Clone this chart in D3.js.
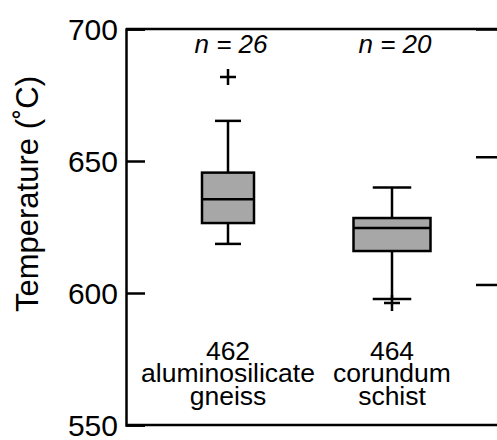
<!DOCTYPE html>
<html>
<head>
<meta charset="utf-8">
<style>
  body { margin: 0; background: #fff; }
  text { font-family: "Liberation Sans", Arial, sans-serif; fill: #000; }
</style>
</head>
<body>
<script src="https://cdn.jsdelivr.net/npm/d3@7"></script>
<script>

// sample data
var samples = ["462", "464"];
var rockNames = [["aluminosilicate", "gneiss"], ["corundum", "schist"]];
var counts = [26, 20];
var whiskerLow = [618.6, 597.7];
var q1 = [626.5, 615.9];
var medians = [635.5, 624.6];
var q3 = [645.6, 628.4];
var whiskerHigh = [665.2, 640.0];
var outliers = [[681.8], [596.2]];
var yTicks = [550, 600, 650, 700];
var rightTicks = [600, 650, 700];

var boxWidths = [52, 77];

var width = 497,
    height = 440;

var svg = d3.select("body").append("svg")
    .attr("width", width)
    .attr("height", height);

var x = d3.scalePoint()
    .domain(samples)
    .range([146, 474])
    .padding(0.5);

var y = d3.scaleLinear()
    .domain([550, 700])
    .range([425, 29]);

// second panel axis (cut off at the right edge)
var yRight = d3.scaleLinear()
    .domain([545, 700])
    .range([425, 29]);

// frame
svg.append("line")
    .attr("x1", 126).attr("x2", width)
    .attr("y1", y(700)).attr("y2", y(700))
    .attr("stroke", "#000").attr("stroke-width", 2.5);
svg.append("line")
    .attr("x1", 126).attr("x2", width)
    .attr("y1", y(550)).attr("y2", y(550))
    .attr("stroke", "#000").attr("stroke-width", 2.5);

// left axis, ticks pointing in
var yAxis = d3.axisRight(y)
    .tickValues(yTicks)
    .tickSize(19)
    .tickFormat("");
var gy = svg.append("g")
    .attr("transform", "translate(126,0)")
    .call(yAxis);
gy.select(".domain").attr("stroke-width", 2.5);
gy.selectAll(".tick line").attr("stroke-width", 2.5);

svg.append("g").selectAll("text")
    .data(yTicks)
    .enter().append("text")
    .attr("x", 118)
    .attr("y", function(d) { return y(d); })
    .attr("dy", "0.35em")
    .attr("text-anchor", "end")
    .style("font-size", "30px")
    .text(function(d) { return d; });

// right axis ticks
var gr = svg.append("g")
    .attr("transform", "translate(497,0)")
    .call(d3.axisLeft(yRight).tickValues(rightTicks).tickSize(21).tickFormat(""));
gr.select(".domain").remove();
gr.selectAll(".tick line").attr("stroke-width", 2.5);

// y label
svg.append("text")
    .attr("transform", "translate(38," + 194 + ") rotate(-90)")
    .attr("text-anchor", "middle")
    .style("font-size", "31px")
    .text("Temperature (\u02DAC)");

// boxes
var boxes = svg.selectAll(".box")
    .data(samples)
    .enter().append("g")
    .attr("class", "box");

boxes.append("line")
    .attr("x1", function(d) { return x(d); })
    .attr("x2", function(d) { return x(d); })
    .attr("y1", function(d, i) { return y(whiskerHigh[i]); })
    .attr("y2", function(d, i) { return y(whiskerLow[i]); })
    .attr("stroke", "#000").attr("stroke-width", 2.5);

boxes.selectAll(".cap")
    .data(function(d, i) { return [[d, i, whiskerLow[i]], [d, i, whiskerHigh[i]]]; })
    .enter().append("line")
    .attr("x1", function(c) { return x(c[0]) - boxWidths[c[1]] / 4; })
    .attr("x2", function(c) { return x(c[0]) + boxWidths[c[1]] / 4; })
    .attr("y1", function(c) { return y(c[2]); })
    .attr("y2", function(c) { return y(c[2]); })
    .attr("stroke", "#000").attr("stroke-width", 2.5);

boxes.append("rect")
    .attr("x", function(d, i) { return x(d) - boxWidths[i] / 2; })
    .attr("y", function(d, i) { return y(q3[i]); })
    .attr("width", function(d, i) { return boxWidths[i]; })
    .attr("height", function(d, i) { return y(q1[i]) - y(q3[i]); })
    .attr("fill", "#a7a7a7")
    .attr("stroke", "#000").attr("stroke-width", 2.5);

boxes.append("line")
    .attr("x1", function(d, i) { return x(d) - boxWidths[i] / 2; })
    .attr("x2", function(d, i) { return x(d) + boxWidths[i] / 2; })
    .attr("y1", function(d, i) { return y(medians[i]); })
    .attr("y2", function(d, i) { return y(medians[i]); })
    .attr("stroke", "#000").attr("stroke-width", 2.5);

// outliers as + marks
boxes.selectAll(".out")
    .data(function(d, i) { return outliers[i].map(function(v) { return [d, v]; }); })
    .enter().append("path")
    .attr("d", function(o) {
        var cx = x(o[0]), cy = y(o[1]), h = 8;
        return "M" + (cx - h) + "," + cy + "H" + (cx + h) + "M" + cx + "," + (cy - h) + "V" + (cy + h);
    })
    .attr("fill", "none")
    .attr("stroke", "#000").attr("stroke-width", 2.5);

// n labels
boxes.append("text")
    .attr("x", function(d) { return x(d) + 3; })
    .attr("y", 53)
    .attr("text-anchor", "middle")
    .style("font-size", "26px")
    .style("font-style", "italic")
    .text(function(d, i) { return "n = " + counts[i]; });

// sample labels
var labels = boxes.append("text")
    .attr("text-anchor", "middle")
    .style("font-size", "26.5px");
labels.append("tspan")
    .attr("x", function(d) { return x(d); })
    .attr("y", 360)
    .text(function(d) { return d; });
labels.selectAll(".rock")
    .data(function(d, i) { return rockNames[i].map(function(r) { return [d, r]; }); })
    .enter().append("tspan")
    .attr("x", function(r) { return x(r[0]); })
    .attr("y", function(r, j) { return 382 + j * 23; })
    .text(function(r) { return r[1]; });

</script>
</body>
</html>
